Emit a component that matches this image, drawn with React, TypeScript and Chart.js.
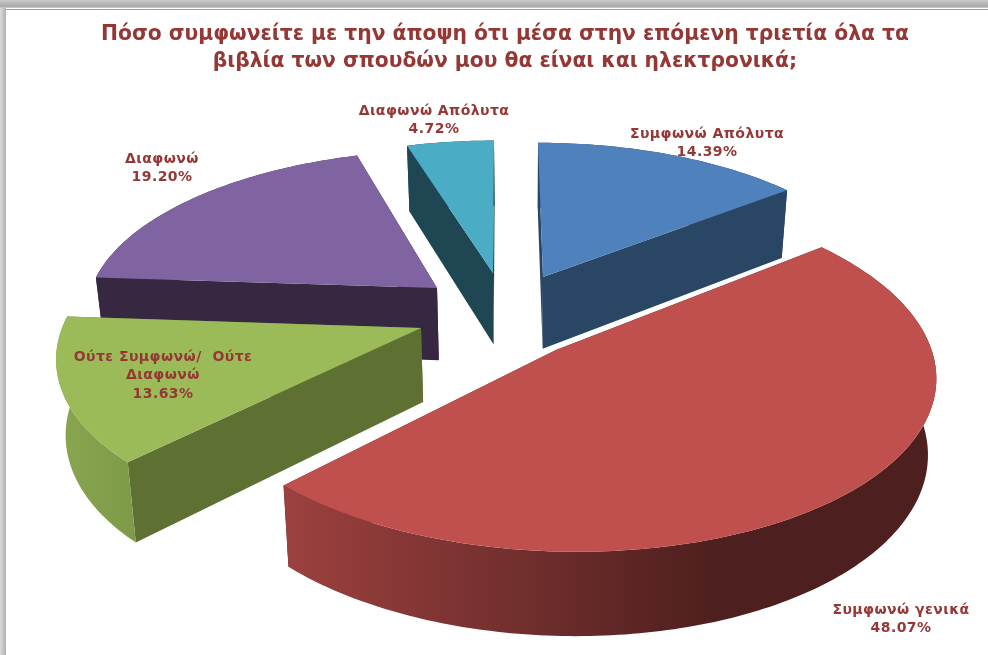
import React, { useEffect, useRef } from "react";
import { Chart, registerables } from "chart.js";

Chart.register(...registerables);

const titleLines = [
  "Πόσο συμφωνείτε με την άποψη ότι μέσα στην επόμενη τριετία όλα τα",
  "βιβλία των σπουδών μου θα είναι και ηλεκτρονικά;",
];
const categories = ["Συμφωνώ Απόλυτα", "Συμφωνώ γενικά", "Ούτε Συμφωνώ/  Ούτε Διαφωνώ", "Διαφωνώ", "Διαφωνώ Απόλυτα"];
const shares = [14.39, 48.07, 13.63, 19.2, 4.72];
const topColors = ["#4f81bd", "#c0504d", "#9bbb59", "#8064a2", "#4bacc6"];
const faceColors = ["#2a4665", "#4d1f1e", "#5e7133", "#352840", "#1e4653"];
const rimColors = [
  ["#2a4665", "#2a4665"],
  ["#9c413f", "#4d1f1e"],
  ["#8aa650", "#7d9a48"],
  ["#352840", "#352840"],
  ["#1e4653", "#1e4653"],
];
const rimStops = [
  [500, 800],
  [284, 720],
  [55, 135],
  [90, 440],
  [400, 500],
];

// per-slice plane-to-screen fit: apex, x scale, x shear, y scale, perspective
const fits = [
  { ax: 543, ay: 277, a: 339, b: 5.6, d: 151, p: 0 },
  { ax: 556, ay: 350, a: 369, b: 12, d: 176.5, p: -0.0175 },
  { ax: 421, ay: 328, a: 359, b: -20, d: 172.5, p: 0 },
  { ax: 437, ay: 288, a: 345.6, b: -12, d: 155, p: 0 },
  { ax: 493, ay: 273, a: 333, b: -1.1, d: 149, p: 0 },
];
const perspective = -0.125;
const drawOrder = [4, 3, 0, 2, 1];

const labelLines = [["Συμφωνώ Απόλυτα"], ["Συμφωνώ γενικά"], ["Ούτε Συμφωνώ/  Ούτε", "Διαφωνώ"], ["Διαφωνώ"], ["Διαφωνώ Απόλυτα"]];
const labelCenters = [
  [707, 134],
  [901, 610],
  [163, 357],
  [162, 159],
  [434, 111],
];
const labelLeading = 18.8;
const labelColor = "#953735";
const FONT = '"DejaVu Sans"';

function project(i: number, theta: number, r: number) {
  const f = fits[i];
  const u = r * Math.sin(theta);
  const v = -r * Math.cos(theta);
  const w = 1 + f.p * u + perspective * v;
  return [f.ax + (f.a * u + f.b * v) / w, f.ay + (f.d * v) / w];
}
function drop(pt: number[]) {
  return [pt[0] + (525 - pt[0]) * 0.0204, pt[1] + 59 + 0.046 * pt[1]];
}
function poly(ctx: CanvasRenderingContext2D, pts: number[][]) {
  ctx.beginPath();
  pts.forEach((p, k) => (k ? ctx.lineTo(p[0], p[1]) : ctx.moveTo(p[0], p[1])));
  ctx.closePath();
}

const framePlugin = {
  id: "frame",
  beforeDraw(chart: any) {
    const ctx: CanvasRenderingContext2D = chart.ctx;
    const W = chart.width;
    const H = chart.height;
    ctx.save();
    ctx.fillStyle = "#ffffff";
    ctx.fillRect(0, 0, W, H);
    const g = ctx.createLinearGradient(0, 0, 0, 9);
    g.addColorStop(0, "#c9c9c9");
    g.addColorStop(0.7, "#a9a9a9");
    g.addColorStop(1, "#e6e6e6");
    ctx.fillStyle = g;
    ctx.fillRect(0, 0, W, 8);
    ctx.fillStyle = "#9a9a9a";
    ctx.fillRect(6, 9, W - 6, 1);
    const h = ctx.createLinearGradient(0, 0, 6, 0);
    h.addColorStop(0, "#dcdcdc");
    h.addColorStop(1, "#b0b0b0");
    ctx.fillStyle = h;
    ctx.fillRect(0, 8, 6, H - 8);
    ctx.restore();
  },
};

const piePlugin = {
  id: "pie3d",
  beforeDatasetsDraw(chart: any) {
    const ctx: CanvasRenderingContext2D = chart.ctx;
    const arcs = chart.getDatasetMeta(0).data;
    ctx.save();
    drawOrder.forEach((i) => {
      const arc = arcs[i];
      const t0 = arc.startAngle + Math.PI / 2;
      const t1 = arc.endAngle + Math.PI / 2;
      const n = Math.max(8, Math.ceil(((t1 - t0) * 180) / Math.PI));
      const rim: number[][] = [];
      for (let k = 0; k <= n; k++) rim.push(project(i, t0 + ((t1 - t0) * k) / n, 1));
      const apex = project(i, t0, 0);
      ctx.fillStyle = faceColors[i];
      poly(ctx, [apex, rim[0], drop(rim[0]), drop(apex)]);
      ctx.fill();
      poly(ctx, [apex, rim[n], drop(rim[n]), drop(apex)]);
      ctx.fill();
      const grad = ctx.createLinearGradient(rimStops[i][0], 0, rimStops[i][1], 0);
      grad.addColorStop(0, rimColors[i][0]);
      grad.addColorStop(1, rimColors[i][1]);
      ctx.fillStyle = grad;
      poly(ctx, [...rim, ...rim.map(drop).reverse()]);
      ctx.fill();
      ctx.fillStyle = topColors[i];
      poly(ctx, [apex, ...rim]);
      ctx.fill();
    });
    ctx.restore();
    return false;
  },
  afterDraw(chart: any) {
    const ctx: CanvasRenderingContext2D = chart.ctx;
    ctx.save();
    ctx.fillStyle = labelColor;
    ctx.textAlign = "center";
    ctx.textBaseline = "middle";
    ctx.font = `bold 14px ${FONT}`;
    (ctx as any).letterSpacing = "0.45px";
    labelLines.forEach((lines, i) => {
      const all = [...lines, shares[i].toFixed(2) + "%"];
      all.forEach((t, k) => ctx.fillText(t, labelCenters[i][0], labelCenters[i][1] + k * labelLeading));
    });
    ctx.restore();
  },
};

export default function App() {
  const ref = useRef<HTMLCanvasElement>(null);
  useEffect(() => {
    const chart = new Chart(ref.current as HTMLCanvasElement, {
      type: "pie",
      data: {
        labels: categories,
        datasets: [{ data: shares, backgroundColor: topColors, borderWidth: 0 }],
      },
      options: {
        animation: false,
        responsive: false,
        layout: { padding: { left: 22, top: 13 } },
        plugins: {
          legend: { display: false },
          tooltip: { enabled: false },
          title: {
            display: true,
            text: titleLines,
            color: labelColor,
            font: { family: FONT, size: 20.3, weight: 700, lineHeight: 1.33 },
            padding: { top: 8, bottom: 0 },
          },
        },
      },
      plugins: [framePlugin, piePlugin],
    } as any);
    return () => chart.destroy();
  }, []);
  return (
    <div style={{ position: "absolute", left: 0, top: 0, width: 988, height: 655 }}>
      <canvas ref={ref} width={988} height={655} style={{ display: "block" }} />
    </div>
  );
}
